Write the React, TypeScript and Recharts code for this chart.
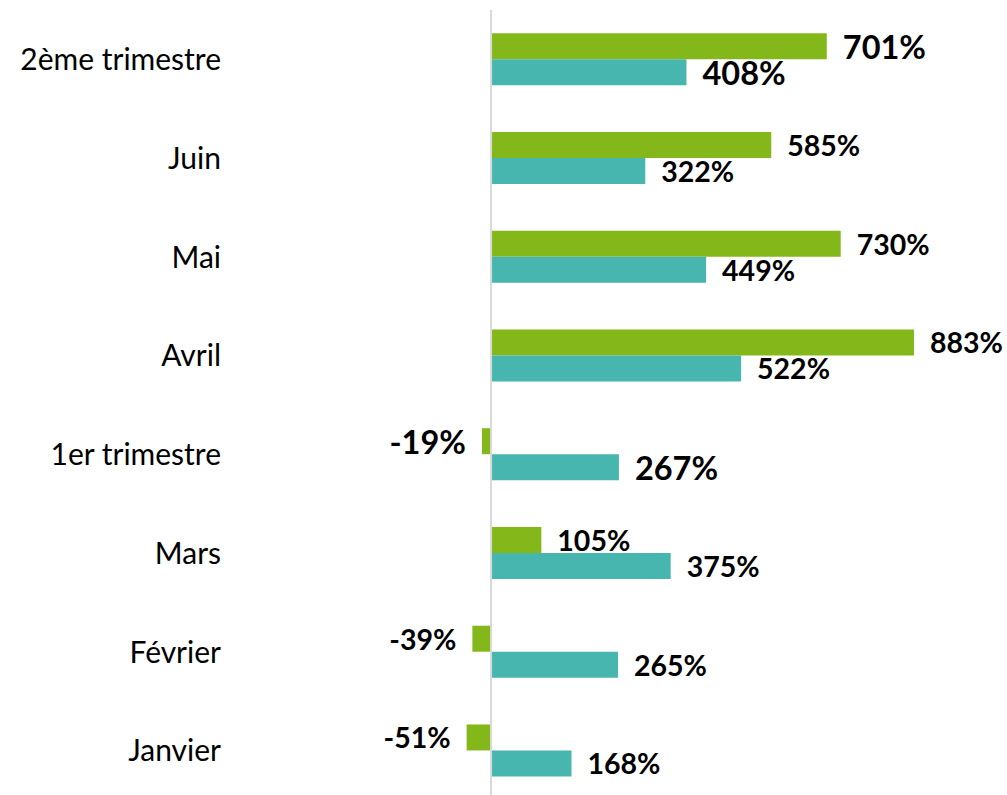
import { BarChart, Bar, XAxis, YAxis, LabelList, ReferenceLine } from "recharts"

const categories = [
  "2ème trimestre",
  "Juin",
  "Mai",
  "Avril",
  "1er trimestre",
  "Mars",
  "Février",
  "Janvier",
]
const greenValues = [701, 585, 730, 883, -19, 105, -39, -51]
const tealValues = [408, 322, 449, 522, 267, 375, 265, 168]

const GREEN = "#84B71A"
const TEAL = "#46B6AE"
const FONT = "Lato, 'Noto Sans', sans-serif"

const data = categories.map((name, i) => ({
  name,
  green: greenValues[i],
  teal: tealValues[i],
}))

const isQuarter = (i: number) => categories[i].includes("trimestre")

function ValueLabel(props: any) {
  const { x, y, width, height, value, index } = props
  const left = Math.min(x, x + width)
  const right = Math.max(x, x + width)
  const neg = value < 0
  const size = isQuarter(index) ? 32.5 : 28.5
  return (
    <text
      x={neg ? left - 16 : right + 16}
      y={y + height / 2}
      textAnchor={neg ? "end" : "start"}
      dominantBaseline="central"
      fontFamily={FONT}
      fontWeight={700}
      fontSize={size}
      fill="#000"
    >
      {value}%
    </text>
  )
}

export default function App() {
  return (
    <div
      style={{
        position: "absolute",
        left: 0,
        top: 0,
        width: 1007,
        height: 795,
        overflow: "hidden",
        background: "#fff",
      }}
    >
      <BarChart
        width={1007}
        height={800}
        data={data}
        layout="vertical"
        margin={{ top: 10, right: 37, left: 0, bottom: 0 }}
        barCategoryGap="23.5%"
        barGap={0}
      >
        <XAxis type="number" domain={[-520, 1000]} hide />
        <YAxis
          type="category"
          dataKey="name"
          width={242}
          axisLine={false}
          tickLine={false}
          tickSize={0}
          tickMargin={21}
          tick={{ fill: "#000", fontSize: 30, fontFamily: FONT }}
        />
        <Bar dataKey="green" fill={GREEN} isAnimationActive={false}>
          <LabelList dataKey="green" content={<ValueLabel />} />
        </Bar>
        <Bar dataKey="teal" fill={TEAL} isAnimationActive={false}>
          <LabelList dataKey="teal" content={<ValueLabel />} />
        </Bar>
        <ReferenceLine x={0} stroke="#D9D9D9" strokeWidth={2} />
      </BarChart>
    </div>
  )
}
